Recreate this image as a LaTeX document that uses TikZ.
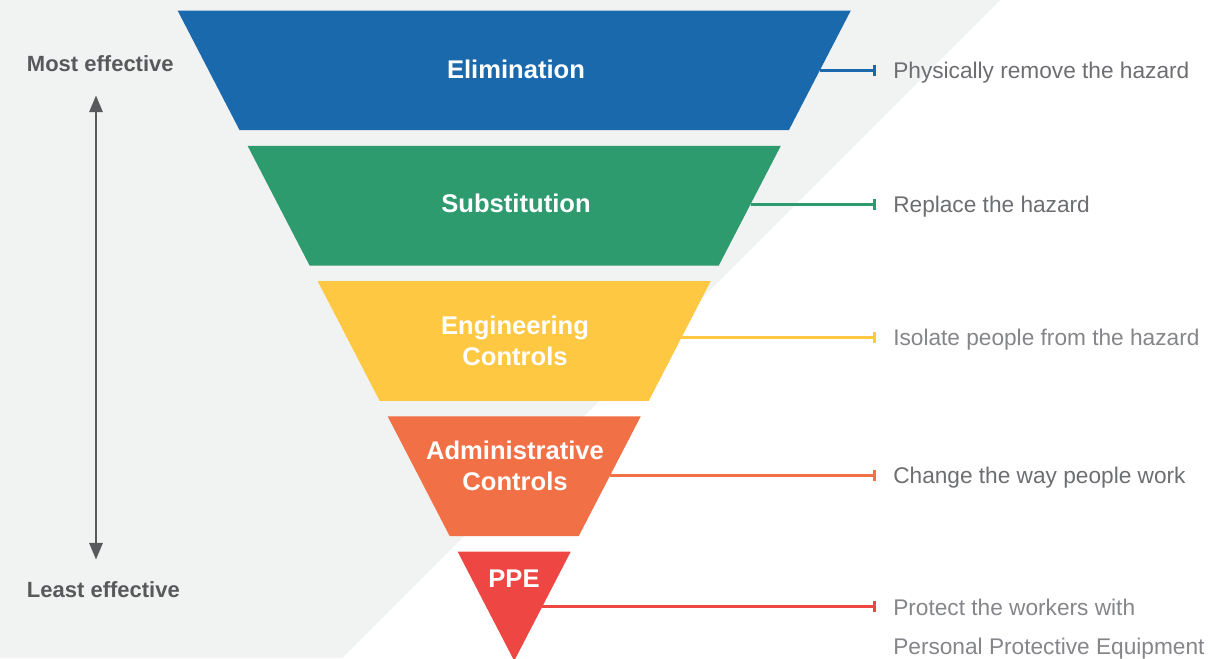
\documentclass[tikz,border=0pt]{standalone}
\usepackage{fontspec}
\setmainfont{Liberation Sans}
\usetikzlibrary{arrows.meta}

\definecolor{bggray}{HTML}{F1F2F2}
\definecolor{elimblue}{HTML}{1B69AD}
\definecolor{subgreen}{HTML}{2E9B6F}
\definecolor{engyellow}{HTML}{FEC843}
\definecolor{admorange}{HTML}{F27046}
\definecolor{ppered}{HTML}{EE4643}
\definecolor{descgray}{HTML}{6D6E71}
\definecolor{descgraylight}{HTML}{858689}
\definecolor{sidegray}{HTML}{58595B}
\definecolor{arrowgray}{HTML}{58595B}

\begin{document}
\begin{tikzpicture}[x=0.75pt,y=-0.75pt,
  band/.style={fill=#1, draw=none},
  bandlabel/.style={text=white, font=\fontsize{19.2}{23.25}\selectfont\bfseries,
    align=center, anchor=base, inner sep=0pt},
  desc/.style={text=#1, font=\fontsize{17}{29.25}\selectfont,
    align=left, anchor=base west, inner sep=0pt},
  desc/.default=descgray,
  leader/.style={draw=#1, line width=1.9pt, -{Bar[width=8.5pt]}},
  sidelabel/.style={text=sidegray, font=\fontsize{16.5}{20}\selectfont\bfseries,
    anchor=base west, inner sep=0pt}
]
\useasboundingbox (0,0) rectangle (1230,658);

% page and diagonal background
\fill[white] (0,0) rectangle (1230,658);
\fill[bggray] (0,0) -- (1000,0) -- (342,658) -- (0,658) -- cycle;

% the inverted pyramid, five bands
\fill[band=elimblue]  (177.6,10.5)  -- (850.8,10.5)  -- (788.8,130.2) -- (239.6,130.2) -- cycle;
\fill[band=subgreen]  (247.6,145.8) -- (780.8,145.8) -- (718.8,265.5) -- (309.6,265.5) -- cycle;
\fill[band=engyellow] (317.7,281.1) -- (710.7,281.1) -- (648.8,400.8) -- (379.6,400.8) -- cycle;
\fill[band=admorange] (387.7,416.4) -- (640.7,416.4) -- (578.7,536.1) -- (449.7,536.1) -- cycle;
\fill[band=ppered]    (457.7,551.7) -- (570.7,551.7) -- (514.2,660.8) -- cycle;

% band titles (two-line titles are placed by their last baseline)
\node[bandlabel] (elim) at (516,78.7)  {Elimination};
\node[bandlabel] (subst) at (516,212.5) {Substitution};
\node[bandlabel] (eng) at (515,365.5)  {Engineering\\Controls};
\node[bandlabel] (adm) at (515,490.5)  {Administrative\\Controls};
\node[bandlabel] (ppe) at (514,587.3)  {PPE};

% descriptions on the right
\node[desc] (delim) at (893,78)  {Physically remove the hazard};
\node[desc] (dsubst) at (893,212.3) {Replace the hazard};
\node[desc=descgraylight] (deng) at (893,345.8) {Isolate people from the hazard};
\node[desc] (dadm) at (893,483.6) {Change the way people work};
\node[desc=descgraylight] (dppe) at (893,654) {Protect the workers with\\Personal Protective Equipment};

% leader lines: from the band edge to a bar just before each description
\coordinate (selim)  at (819.7,70.5);
\coordinate (ssubst) at (750.5,204.3);
\coordinate (seng)   at (681.4,337.7);
\coordinate (sadm)   at (610.0,475.7);
\coordinate (sppe)   at (542.2,606.7);
\coordinate (eelim)  at (875.5,70.5);
\coordinate (esubst) at (875.5,204.3);
\coordinate (eeng)   at (875.5,337.7);
\coordinate (eadm)   at (875.5,475.7);
\coordinate (eppe)   at (875.5,606.7);
\draw[leader=elimblue]  (selim)  -- (eelim);
\draw[leader=subgreen]  (ssubst) -- (esubst);
\draw[leader=engyellow] (seng)   -- (eeng);
\draw[leader=admorange] (sadm)   -- (eadm);
\draw[leader=ppered]    (sppe)   -- (eppe);

% effectiveness scale on the left
\node[sidelabel] (most) at (26.7,71)   {Most effective};
\node[sidelabel] (least) at (26.7,597.3) {Least effective};
\coordinate (atop) at (96,95.5);
\coordinate (abot) at (96,559.5);
\draw[arrowgray, line width=1.5pt,
  {Triangle[length=12.5pt,width=10pt]}-{Triangle[length=12.5pt,width=10pt]}]
  (atop) -- (abot);
\end{tikzpicture}
\end{document}
